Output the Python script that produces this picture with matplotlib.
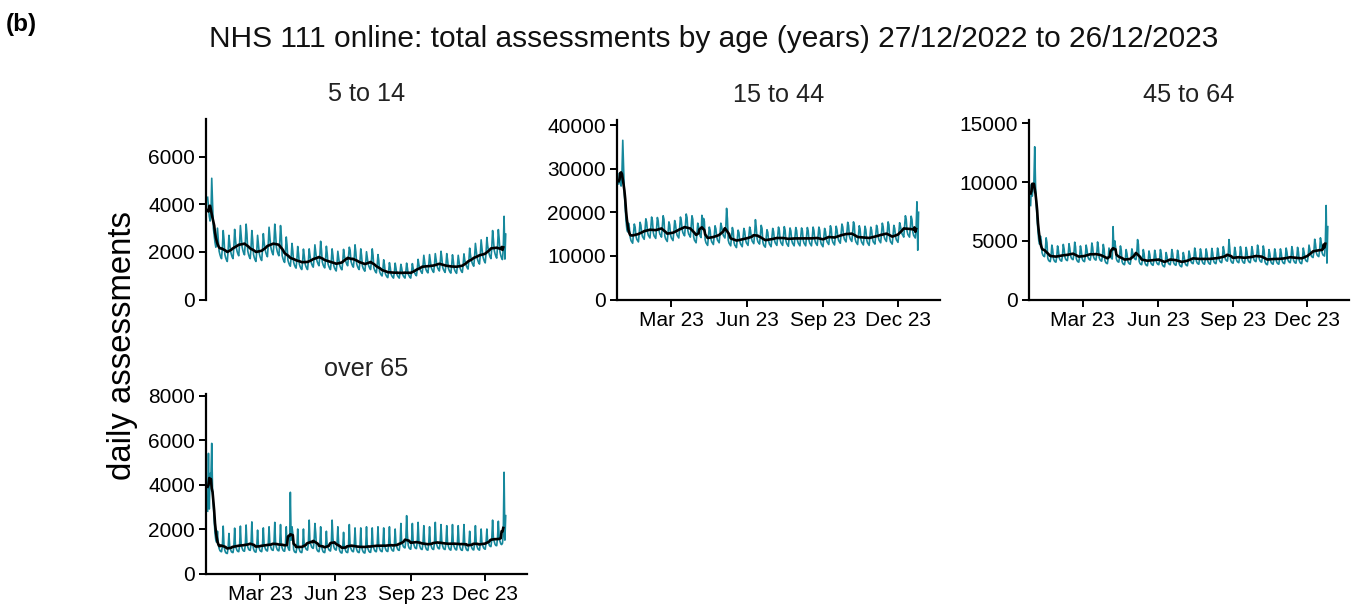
import matplotlib
matplotlib.use("Agg")
import matplotlib.pyplot as plt
import matplotlib.dates as mdates
import numpy as np
import pandas as pd

plt.rcParams['font.family'] = ['Liberation Sans', 'DejaVu Sans']

# daily assessments, 27/12/2022 .. 26/12/2023 (one row per week, Tue..Mon)
dates = pd.date_range('2022-12-27', '2023-12-26', freq='D')

age_5_14 = [
    4300, 3900, 3500, 3300, 3500, 5100, 4000,
    3000, 2700, 2400, 2200, 2400, 3000, 2500,
    2040, 1890, 1780, 1720, 2190, 2900, 2520,
    1900, 1760, 1660, 1600, 2040, 2700, 2340,
    2040, 1890, 1780, 1720, 2190, 2950, 2520,
    2190, 2020, 1910, 1840, 2350, 3110, 2690,
    2230, 2070, 1950, 1880, 2400, 3170, 2750,
    2040, 1890, 1780, 1720, 2190, 2900, 2520,
    1900, 1760, 1660, 1600, 2040, 2700, 2340,
    1950, 1800, 1700, 1640, 2090, 2770, 2400,
    2140, 1980, 1870, 1800, 2300, 3040, 2630,
    2230, 2070, 1950, 1880, 2400, 3170, 2750,
    2190, 2020, 1910, 1840, 2350, 3110, 2690,
    1850, 1720, 1620, 1560, 1990, 2630, 2280,
    1660, 1540, 1450, 1400, 1790, 2360, 2050,
    1570, 1450, 1370, 1320, 1680, 2230, 1930,
    1490, 1380, 1300, 1260, 1600, 2120, 1840,
    1500, 1390, 1310, 1260, 1610, 2130, 1850,
    1620, 1500, 1410, 1360, 1730, 2300, 1990,
    1690, 1570, 1480, 1420, 1820, 2450, 2080,
    1580, 1460, 1380, 1330, 1690, 2240, 1940,
    1500, 1390, 1310, 1260, 1610, 2130, 1850,
    1430, 1320, 1250, 1200, 1530, 2030, 1760,
    1480, 1370, 1290, 1250, 1590, 2110, 1830,
    1690, 1570, 1480, 1420, 1820, 2200, 2080,
    1620, 1500, 1410, 1360, 1730, 2300, 1990,
    1500, 1390, 1310, 1260, 1610, 2130, 1850,
    1420, 1310, 1240, 1190, 1520, 2010, 1740,
    1500, 1390, 1310, 1260, 1610, 2130, 1850,
    1330, 1230, 1160, 1120, 1430, 1890, 1640,
    1180, 1090, 1030, 990, 1260, 1670, 1450,
    1090, 1010, 950, 920, 1170, 1550, 1350,
    1070, 990, 940, 900, 1150, 1530, 1320,
    1070, 990, 940, 900, 1150, 1480, 1320,
    1070, 990, 940, 900, 1150, 1530, 1320,
    1060, 990, 930, 900, 1140, 1510, 1310,
    1190, 1100, 1040, 1000, 1280, 1690, 1460,
    1310, 1210, 1150, 1100, 1410, 1860, 1610,
    1330, 1230, 1160, 1120, 1430, 1890, 1640,
    1360, 1260, 1190, 1140, 1460, 1930, 1670,
    1430, 1320, 1250, 1200, 1530, 2030, 1760,
    1360, 1260, 1190, 1140, 1460, 1930, 1670,
    1320, 1220, 1150, 1110, 1420, 1880, 1630,
    1310, 1210, 1150, 1100, 1410, 1860, 1610,
    1350, 1250, 1180, 1140, 1450, 1920, 1660,
    1520, 1410, 1330, 1280, 1630, 2160, 1870,
    1660, 1540, 1450, 1400, 1790, 2360, 2050,
    1770, 1640, 1540, 1490, 1900, 2510, 2180,
    1830, 1700, 1600, 1540, 1970, 2610, 2260,
    2040, 1890, 1780, 1720, 2190, 2900, 2520,
    2070, 1920, 1810, 1740, 2220, 2940, 2550,
    2000, 1850, 1740, 1680, 2140, 3500, 1700,
    2750,
]

age_15_44 = [
    26500, 29000, 27000, 26000, 29000, 36500, 30000,
    24000, 21000, 18000, 16000, 15500, 17500, 16500,
    14300, 13500, 13200, 12900, 15000, 17300, 16600,
    14600, 13800, 13500, 13200, 15300, 17700, 17000,
    15200, 14400, 14100, 13800, 16000, 18500, 17700,
    15500, 14700, 14400, 14100, 16300, 18900, 18100,
    15400, 14600, 14300, 14000, 16200, 18800, 18000,
    15800, 15000, 14700, 14300, 16600, 19200, 18400,
    14600, 13900, 13600, 13300, 15400, 17800, 17100,
    14800, 14100, 13800, 13500, 15600, 18100, 17300,
    15500, 14700, 14400, 14100, 16300, 18900, 18100,
    16100, 15300, 14900, 14600, 16900, 19600, 18800,
    15800, 15000, 14700, 14300, 16600, 19200, 18400,
    14400, 13600, 13300, 13000, 15100, 17500, 16700,
    15300, 14500, 14200, 19300, 16100, 18600, 17900,
    13700, 13000, 12700, 12400, 14400, 16600, 15900,
    13900, 13200, 12900, 12600, 14600, 16900, 16200,
    14400, 13600, 13300, 13000, 15100, 17500, 16700,
    15500, 14700, 14400, 14100, 16300, 20900, 18500,
    13600, 12900, 12600, 12300, 14300, 16500, 15800,
    13100, 12400, 12200, 11900, 13800, 15900, 15300,
    13400, 12700, 12400, 12100, 14100, 16300, 15600,
    13700, 13000, 12700, 12400, 14400, 16600, 15900,
    14200, 13400, 13100, 12800, 14900, 18300, 16500,
    14000, 13200, 13000, 12700, 14700, 17000, 16300,
    13200, 12500, 12200, 12000, 13900, 16000, 15400,
    13400, 12700, 12400, 12100, 14100, 16300, 15600,
    13700, 13000, 12700, 12400, 14400, 16600, 15900,
    13700, 13000, 12700, 12400, 14400, 16700, 15900,
    13500, 12800, 12500, 12200, 14200, 16400, 15700,
    13600, 12900, 12600, 12300, 14300, 16500, 15800,
    13600, 12900, 12600, 12300, 14300, 16400, 15800,
    13600, 12900, 12600, 12300, 14300, 16500, 15800,
    13600, 12900, 12600, 12300, 14300, 16600, 15800,
    13700, 13000, 12700, 12400, 14400, 16600, 15900,
    13400, 12700, 12400, 12100, 14100, 16300, 15600,
    13900, 13200, 12900, 12600, 14600, 16900, 16200,
    13800, 13100, 12800, 12500, 14500, 16800, 16000,
    14300, 13500, 13200, 12900, 15000, 17300, 16600,
    14600, 13800, 13500, 13200, 15300, 17700, 17000,
    14600, 13900, 13600, 13300, 15400, 17800, 17100,
    13900, 13200, 12900, 12600, 14600, 16900, 16200,
    13800, 13100, 12800, 12500, 14500, 16800, 16000,
    13700, 13000, 12700, 12400, 14400, 16600, 15900,
    14000, 13200, 13000, 12700, 14700, 17000, 16300,
    14400, 13600, 13300, 13000, 15100, 17500, 16700,
    14600, 13900, 13600, 13300, 15400, 17800, 17100,
    14000, 13200, 13000, 12700, 14700, 17000, 16300,
    14500, 13700, 13400, 13100, 15200, 17600, 16800,
    15800, 15000, 14700, 14300, 16600, 19200, 18400,
    15700, 14900, 14600, 14300, 16500, 19100, 18300,
    15500, 14700, 14400, 14100, 16300, 22400, 11300,
    20000,
]

age_45_64 = [
    8000, 9800, 8800, 9500, 10000, 13000, 9800,
    8000, 6800, 5800, 5000, 4700, 5400, 5000,
    3990, 3780, 3700, 3650, 4200, 5250, 4830,
    3520, 3330, 3260, 3220, 3700, 4630, 4260,
    3470, 3290, 3210, 3180, 3650, 4560, 4200,
    3560, 3380, 3300, 3260, 3750, 4690, 4310,
    3610, 3420, 3340, 3310, 3800, 4750, 4370,
    3710, 3510, 3430, 3390, 3900, 4880, 4490,
    3470, 3290, 3210, 3180, 3650, 4560, 4200,
    3520, 3330, 3260, 3220, 3700, 4630, 4260,
    3660, 3470, 3390, 3350, 3850, 4810, 4430,
    3660, 3470, 3390, 3350, 3850, 4900, 4430,
    3560, 3380, 3300, 3260, 3750, 4690, 4310,
    3330, 3150, 3080, 3050, 3500, 4380, 4030,
    3700, 3500, 3450, 6200, 4200, 5000, 4500,
    3470, 3290, 3210, 3180, 3650, 4560, 4200,
    3230, 3060, 2990, 2960, 3400, 4250, 3910,
    3280, 3110, 3040, 3000, 3450, 4310, 3970,
    3710, 3510, 3430, 3390, 3900, 5100, 4700,
    3230, 3060, 2990, 2960, 3400, 4250, 3910,
    3140, 2970, 2900, 2870, 3300, 4130, 3800,
    3180, 3020, 2950, 2910, 3350, 4190, 3850,
    3230, 3060, 2990, 2960, 3400, 4250, 3910,
    3040, 2880, 2820, 2780, 3200, 4000, 3680,
    3230, 3060, 2990, 2960, 3400, 4250, 3910,
    3180, 3020, 2950, 2910, 3350, 4190, 3850,
    3040, 2880, 2820, 2780, 3200, 4000, 3680,
    3140, 2970, 2900, 2870, 3300, 4130, 3800,
    3330, 3150, 3080, 3050, 3500, 4380, 4030,
    3280, 3110, 3040, 3000, 3450, 4310, 3970,
    3280, 3110, 3040, 3000, 3450, 4310, 3970,
    3280, 3110, 3040, 3000, 3450, 4350, 3970,
    3330, 3150, 3080, 3050, 3500, 4380, 4030,
    3420, 3240, 3170, 3130, 3600, 4500, 4140,
    3560, 3380, 3300, 3260, 3750, 5100, 4310,
    3370, 3200, 3120, 3090, 3550, 4440, 4080,
    3420, 3240, 3170, 3130, 3600, 4500, 4140,
    3370, 3200, 3120, 3090, 3550, 4440, 4080,
    3420, 3240, 3170, 3130, 3600, 4500, 4140,
    3520, 3330, 3260, 3220, 3700, 4630, 4260,
    3470, 3290, 3210, 3180, 3650, 4560, 4200,
    3230, 3060, 2990, 2960, 3400, 4250, 3910,
    3280, 3110, 3040, 3000, 3450, 4310, 3970,
    3280, 3110, 3040, 3000, 3450, 4310, 3970,
    3330, 3150, 3080, 3050, 3500, 4380, 4030,
    3420, 3240, 3170, 3130, 3600, 4500, 4140,
    3370, 3200, 3120, 3090, 3550, 4440, 4080,
    3330, 3150, 3080, 3050, 3500, 4380, 4030,
    3520, 3330, 3260, 3220, 3700, 4630, 4260,
    3900, 3690, 3610, 3570, 4100, 5130, 4720,
    3990, 3780, 3700, 3650, 4200, 5250, 4830,
    4000, 3800, 3750, 3700, 4700, 8000, 3100,
    6200,
]

age_over_65 = [
    2800, 5400, 2900, 4500, 4300, 5850, 3700,
    3100, 2400, 1800, 1500, 1400, 1900, 1300,
    1130, 1030, 990, 980, 1250, 2130, 1260,
    1040, 940, 910, 900, 1150, 1800, 1160,
    1080, 980, 950, 940, 1200, 2040, 1210,
    1130, 1030, 990, 980, 1250, 2130, 1260,
    1150, 1050, 1010, 1000, 1280, 2180, 1290,
    1200, 1090, 1050, 1040, 1330, 2320, 1340,
    1110, 1010, 970, 960, 1230, 1950, 1240,
    1130, 1030, 1000, 980, 1260, 2050, 1270,
    1170, 1070, 1030, 1010, 1300, 2100, 1310,
    1200, 1090, 1050, 1040, 1330, 2300, 1340,
    1180, 1070, 1030, 1020, 1310, 2200, 1320,
    1150, 1050, 1010, 1000, 1280, 2100, 1290,
    1180, 1080, 1040, 3650, 1500, 2100, 1800,
    1080, 980, 950, 940, 1200, 2000, 1210,
    1080, 980, 950, 940, 1200, 2000, 1210,
    1220, 1110, 1070, 1050, 1350, 2400, 1360,
    1310, 1190, 1150, 1130, 1450, 2250, 1800,
    1130, 1030, 990, 980, 1250, 2100, 1260,
    1080, 980, 950, 940, 1200, 1900, 1210,
    1170, 1070, 1030, 1010, 1300, 2400, 1600,
    1220, 1110, 1070, 1050, 1350, 2100, 1360,
    1060, 970, 930, 920, 1180, 1850, 1190,
    1080, 980, 950, 940, 1200, 2200, 1210,
    1130, 1030, 990, 980, 1250, 2050, 1260,
    1080, 980, 950, 940, 1200, 2050, 1210,
    1060, 970, 930, 920, 1180, 2100, 1190,
    1100, 1000, 960, 950, 1220, 2050, 1230,
    1130, 1030, 990, 980, 1250, 2100, 1260,
    1130, 1030, 1000, 980, 1260, 2050, 1270,
    1140, 1040, 1000, 990, 1270, 2100, 1280,
    1160, 1060, 1020, 1010, 1290, 2000, 1300,
    1200, 1090, 1050, 1040, 1330, 2250, 1340,
    1330, 1210, 1170, 1150, 1480, 2600, 1700,
    1260, 1150, 1110, 1090, 1400, 2250, 1410,
    1290, 1170, 1130, 1120, 1430, 2300, 1440,
    1240, 1130, 1090, 1080, 1380, 2150, 1390,
    1210, 1100, 1060, 1050, 1340, 2100, 1350,
    1240, 1130, 1090, 1080, 1380, 2300, 1390,
    1280, 1160, 1120, 1110, 1420, 2200, 1430,
    1240, 1130, 1090, 1080, 1380, 2150, 1390,
    1220, 1110, 1070, 1050, 1350, 2200, 1360,
    1220, 1120, 1070, 1060, 1360, 2150, 1370,
    1200, 1090, 1050, 1040, 1330, 2200, 1340,
    1190, 1080, 1040, 1030, 1320, 1900, 1330,
    1220, 1120, 1070, 1060, 1360, 2150, 1370,
    1220, 1110, 1070, 1050, 1350, 2000, 1360,
    1260, 1150, 1110, 1090, 1400, 2000, 1410,
    1400, 1270, 1220, 1210, 1550, 2400, 1570,
    1440, 1310, 1260, 1250, 1600, 2350, 1620,
    1450, 1330, 1300, 1350, 1700, 4550, 1500,
    2600,
]

panel_titles = ['5 to 14', '15 to 44', '45 to 64', 'over 65']
panel_series = [age_5_14, age_15_44, age_45_64, age_over_65]
panel_yticks = [[0, 2000, 4000, 6000],
                [0, 10000, 20000, 30000, 40000],
                [0, 5000, 10000, 15000],
                [0, 2000, 4000, 6000, 8000]]
panel_ytop = [7580, 41150, 15280, 8070]

W, H = 1362, 607
# axes boxes in pixels: left, top, right, bottom
boxes = [(206, 119.3, 527, 299.5),
         (617, 120, 940, 299.5),
         (1029, 120, 1349, 299.5),
         (206, 394, 527, 573.5)]
show_x = [False, True, True, True]

teal = '#16889c'
fig = plt.figure(figsize=(W / 100, H / 100), dpi=100)

for title, vals, yt, ytop, box, sx in zip(panel_titles, panel_series, panel_yticks,
                                         panel_ytop, boxes, show_x):
    l, t, r, b = box
    ax = fig.add_axes([l / W, 1 - b / H, (r - l) / W, (b - t) / H])
    s = pd.Series(vals, index=dates, dtype=float)
    # 7-day centred mean; the last few days have no full window
    smooth = s.rolling(7, center=True, min_periods=1).mean().iloc[:-3]
    ax.plot(s.index, s.values, color=teal, lw=1.2)
    ax.plot(smooth.index, smooth.values, color='black', lw=1.9)

    ax.set_xlim(pd.Timestamp('2022-12-25'), pd.Timestamp('2024-01-21'))
    ax.set_ylim(0, ytop)
    ax.set_yticks(yt)
    ax.set_yticklabels([str(v) for v in yt])
    ax.xaxis.set_major_locator(mdates.MonthLocator(bymonth=[3, 6, 9, 12]))
    ax.xaxis.set_major_formatter(mdates.DateFormatter('%b %y'))

    for side in ['top', 'right']:
        ax.spines[side].set_visible(False)
    ax.spines['left'].set_linewidth(1.6)
    ax.spines['bottom'].set_linewidth(1.6)
    ax.tick_params(axis='both', length=5, width=1.4, labelsize=15,
                   colors='black', pad=3)
    if not sx:
        ax.spines['bottom'].set_visible(False)
        ax.tick_params(axis='x', bottom=False, labelbottom=False)
    ax.set_title(title, fontsize=18.2, color='#222222', pad=13)

fig.text(0.5237, 0.936, 'NHS 111 online: total assessments by age (years) 27/12/2022 to 26/12/2023',
         ha='center', va='center', fontsize=21.5, color='#111111')
fig.text(0.0154, 0.960, '(b)', ha='center', va='center', fontsize=17.5,
         fontweight='bold')
fig.text(0.0896, 0.43, 'daily assessments', rotation=90, ha='center', va='center',
         fontsize=23.7, color='black')

fig.savefig('out.png', dpi=100)
